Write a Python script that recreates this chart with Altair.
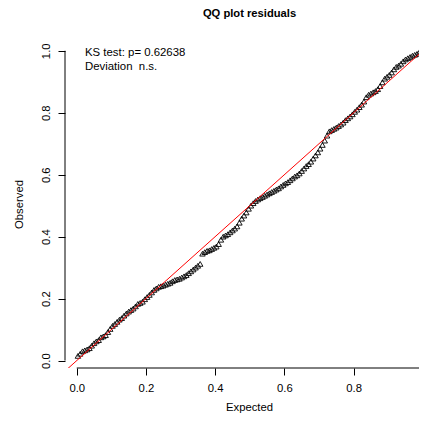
import altair as alt
import pandas as pd

# Observed (sorted scaled residuals)
observed = [
    0.015, 0.022, 0.030, 0.033, 0.036, 0.040, 0.048, 0.056, 0.062, 0.066,
    0.075, 0.078, 0.082, 0.092, 0.102, 0.112, 0.118, 0.125, 0.132, 0.137,
    0.145, 0.152, 0.158, 0.163, 0.168, 0.175, 0.183, 0.186, 0.190, 0.198,
    0.205, 0.212, 0.220, 0.228, 0.233, 0.238, 0.240, 0.242, 0.245, 0.248,
    0.251, 0.256, 0.260, 0.262, 0.264, 0.268, 0.272, 0.276, 0.282, 0.288,
    0.294, 0.300, 0.306, 0.312, 0.345, 0.350, 0.354, 0.356, 0.360, 0.364,
    0.368, 0.376, 0.390, 0.400, 0.404, 0.408, 0.414, 0.420, 0.426, 0.433,
    0.445, 0.458, 0.468, 0.478, 0.490, 0.500, 0.508, 0.515, 0.520, 0.524,
    0.528, 0.532, 0.536, 0.540, 0.544, 0.548, 0.552, 0.556, 0.562, 0.567,
    0.572, 0.576, 0.582, 0.588, 0.594, 0.598, 0.604, 0.612, 0.620, 0.628,
    0.634, 0.642, 0.652, 0.662, 0.672, 0.684, 0.696, 0.710, 0.726, 0.740,
    0.744, 0.748, 0.752, 0.757, 0.762, 0.768, 0.776, 0.782, 0.788, 0.795,
    0.803, 0.810, 0.818, 0.826, 0.836, 0.850, 0.858, 0.862, 0.866, 0.870,
    0.876, 0.886, 0.898, 0.910, 0.916, 0.922, 0.930, 0.940, 0.948, 0.952,
    0.958, 0.966, 0.972, 0.976, 0.980, 0.984, 0.987, 0.990, 0.995, 0.999,
]
n = len(observed)
# expected uniform quantiles for each rank
expected = [(i + 0.5) / n for i in range(n)]

x_ticks = [0.0, 0.2, 0.4, 0.6, 0.8, 1.0]
y_ticks = [0.0, 0.2, 0.4, 0.6, 0.8, 1.0]
ref_line = [-0.1, 1.1]

title_text = "QQ plot residuals"
ks_line1 = "KS test: p= 0.62638"
ks_line2 = "Deviation\u00a0 n.s."

FONT = "Liberation Sans"
W, H = 354, 329

xs = alt.Scale(domain=[-0.034, 0.989], nice=False, zero=False)
ys = alt.Scale(domain=[-0.024, 1.038], nice=False, zero=False)

df = pd.DataFrame({"expected": expected, "observed": observed})
df_line = pd.DataFrame({"expected": ref_line, "observed": ref_line})

x_axis = alt.Axis(
    values=x_ticks, format=".1f", domain=False, grid=False,
    tickSize=7, tickColor="black", tickWidth=1,
    labelFont=FONT, labelFontSize=11.3, labelColor="black",
    labelPadding=7, labelFlush=False, labelOverlap=False, labelBound=False,
    title="Expected", titleFont=FONT, titleFontSize=11.3,
    titleFontWeight="normal", titleColor="black",
    titleX=184, titleY=42, titleBaseline="alphabetic", titleAlign="center",
)
y_axis = alt.Axis(
    values=y_ticks, format=".1f", domain=False, grid=False,
    tickSize=7, tickColor="black", tickWidth=1,
    labelFont=FONT, labelFontSize=11.3, labelColor="black",
    labelAngle=270, labelAlign="center", labelBaseline="alphabetic",
    labelPadding=9, labelFlush=False, labelOverlap=False,
    title="Observed", titleFont=FONT, titleFontSize=11.3,
    titleFontWeight="normal", titleColor="black",
    titleAngle=270, titleX=-43, titleY=165, titleBaseline="alphabetic",
    titleAlign="center",
)

X = alt.X("expected:Q", scale=xs, axis=x_axis)
Y = alt.Y("observed:Q", scale=ys, axis=y_axis)

points = alt.Chart(df).mark_point(
    shape="triangle-up", filled=False, stroke="black", strokeWidth=0.9,
    size=30, opacity=1,
).encode(x=X, y=Y)

line = alt.Chart(df_line).mark_line(color="red", strokeWidth=1, clip=True).encode(
    x=X, y=Y,
)

ax_x = alt.Chart(pd.DataFrame({"expected": [x_ticks[0]], "b": [x_ticks[-1]]})).mark_rule(
    color="black", strokeWidth=1
).encode(x=X, x2="b:Q", y=alt.value(H))
ax_y = alt.Chart(pd.DataFrame({"observed": [y_ticks[0]], "b": [y_ticks[-1]]})).mark_rule(
    color="black", strokeWidth=1
).encode(y=Y, y2="b:Q", x=alt.value(0))

title = alt.Chart(pd.DataFrame({"t": [title_text]})).mark_text(
    font=FONT, fontSize=11.2, fontWeight="bold", color="black",
    align="center", baseline="alphabetic",
).encode(text="t:N", x=alt.value(184.5), y=alt.value(-22.3))

ks1 = alt.Chart(pd.DataFrame({"t": [ks_line1]})).mark_text(
    font=FONT, fontSize=11.4, color="black", align="left", baseline="alphabetic",
).encode(text="t:N", x=alt.value(20), y=alt.value(17))
ks2 = alt.Chart(pd.DataFrame({"t": [ks_line2]})).mark_text(
    font=FONT, fontSize=11.4, color="black", align="left", baseline="alphabetic",
).encode(text="t:N", x=alt.value(20), y=alt.value(31))

chart = alt.layer(points, line, ax_x, ax_y, title, ks1, ks2).properties(
    width=W, height=H,
    autosize=alt.AutoSizeParams(type="none"),
    padding={"left": 57, "top": 31, "right": 0, "bottom": 49},
    background="white",
).configure_view(stroke=None)

chart.save("out.html", embed_options={"renderer": "svg", "actions": False})
